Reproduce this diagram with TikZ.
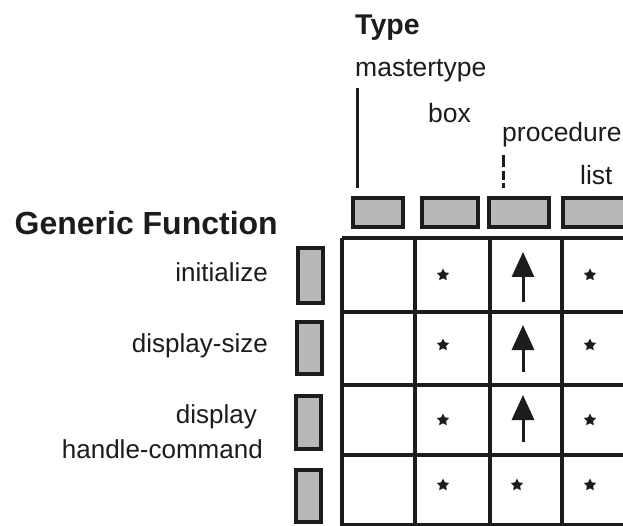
\documentclass[tikz,border=0pt]{standalone}
\usepackage{fontspec}
\setmainfont{Liberation Sans}
\usetikzlibrary{arrows.meta,shapes.geometric}
\definecolor{Ink}{HTML}{1C1C1C}
\definecolor{Stipple}{HTML}{B8B8B8}
\tikzset{
  heading/.style={font=\fontsize{30}{32}\selectfont\bfseries, text=Ink, inner sep=0pt},
  typelab/.style={font=\fontsize{26.5}{28}\selectfont, text=Ink, inner sep=0pt, anchor=base west},
  funclab/.style={font=\fontsize{26}{28}\selectfont, text=Ink, inner sep=0pt, anchor=base east},
  tagbox/.style={draw=Ink, line width=4pt, fill=Stipple, inner sep=0pt},
  gridline/.style={draw=Ink, line width=3.5pt},
  typeline/.style={draw=Ink, line width=3pt},
  slot/.style={star, star points=5, star point ratio=2, fill=Ink, inner sep=0pt, minimum size=13pt},
  inherit/.style={-{Triangle[length=25pt,width=22pt]}, draw=Ink, fill=Ink, line width=3pt},
}

\begin{document}
\begin{tikzpicture}[x=1pt, y=-1pt]
    \clip (0,0) rectangle (623,526);
    \fill[white] (0,0) rectangle (623,526);
    \node[heading, anchor=base west, font=\fontsize{28.5}{30}\selectfont\bfseries] (type) at (355,35) {Type};
    \node[typelab] (mastertype) at (355,77) {mastertype};
    \node[typelab] (box) at (428,123) {box};
    \node[typelab] (procedure) at (502,142) {procedure};
    \node[typelab] (list) at (580,185) {list};
    \node[heading, anchor=base east, font=\fontsize{32}{34}\selectfont\bfseries] (generic) at (278,235) {Generic Function};
    \node[funclab] (initialize) at (268,282) {initialize};
    \node[funclab] (displaysize) at (268,352) {display-size};
    \node[funclab] (display) at (257,423) {display};
    \node[funclab] (handlecmd) at (263,458) {handle-command};
    \node[tagbox, minimum width=50pt, minimum height=29pt] (colbox1) at (378,212.5) {};
    \node[tagbox, minimum width=56pt, minimum height=29pt] (colbox2) at (450,212.5) {};
    \node[tagbox, minimum width=60pt, minimum height=29pt] (colbox3) at (519,212.5) {};
    \node[tagbox, minimum width=76pt, minimum height=29pt] (colbox4) at (601,212.5) {};
    \node[tagbox, minimum width=25pt, minimum height=55pt] (rowbox1) at (310.5,275.5) {};
    \node[tagbox, minimum width=25pt, minimum height=52pt] (rowbox2) at (309,348) {};
    \node[tagbox, minimum width=25pt, minimum height=53pt] (rowbox3) at (308.5,422.5) {};
    \node[tagbox, minimum width=25pt, minimum height=52pt] (rowbox4) at (308.5,496) {};
    \draw[typeline] ([xshift=2pt,yshift=-5.5pt]mastertype.south west) -- ([xshift=6pt,yshift=8pt]colbox1.north west);
    \draw[typeline, dash pattern=on 12pt off 4pt on 9pt off 3pt] ([xshift=1pt,yshift=-7.5pt]procedure.south west) -- ([xshift=16pt,yshift=8pt]colbox3.north west);
    \draw[gridline] (342,238) -- (640,238);
    \draw[gridline] (342,312) -- (640,312);
    \draw[gridline] (342,385) -- (640,385);
    \draw[gridline] (342,455) -- (640,455);
    \draw[gridline] (342,525) -- (640,525);
    \draw[gridline] (342,238) -- (342,530);
    \draw[gridline] (415,238) -- (415,530);
    \draw[gridline] (490,238) -- (490,530);
    \draw[gridline] (562,238) -- (562,530);
    \node[slot] (s12) at (443,275) {};
    \node[slot] (s14) at (590,275) {};
    \node[slot] (s22) at (443,345) {};
    \node[slot] (s24) at (590,345) {};
    \node[slot] (s32) at (443,420) {};
    \node[slot] (s34) at (590,420) {};
    \node[slot] (s42) at (443,485) {};
    \node[slot] (s43) at (517,485) {};
    \node[slot] (s44) at (590,485) {};
    \coordinate (up1foot) at (523,302);
    \coordinate (up1tip) at (523,252);
    \coordinate (up2foot) at (523,372);
    \coordinate (up2tip) at (523,325);
    \coordinate (up3foot) at (523,442);
    \coordinate (up3tip) at (523,395);
    \draw[inherit] (up1foot) -- (up1tip);
    \draw[inherit] (up2foot) -- (up2tip);
    \draw[inherit] (up3foot) -- (up3tip);
  \end{tikzpicture}
\end{document}
